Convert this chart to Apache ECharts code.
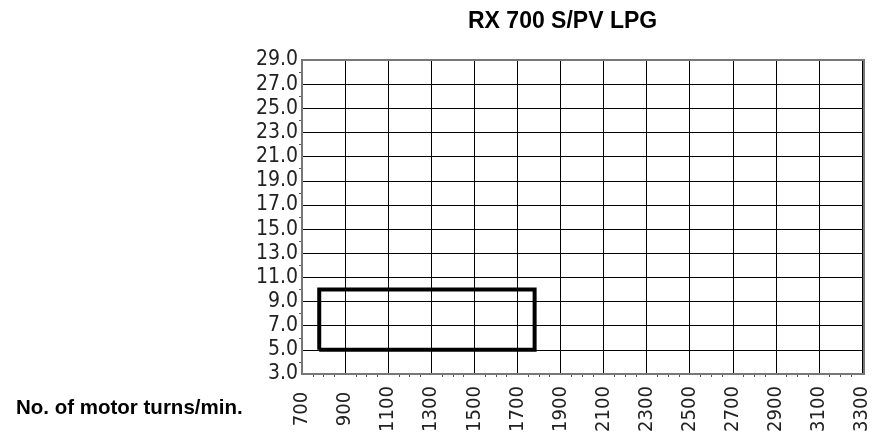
<!DOCTYPE html>
<html>
<head>
<meta charset="utf-8">
<script src="https://cdn.jsdelivr.net/npm/echarts@6/dist/echarts.min.js"></script>
<style>
  html, body { margin: 0; padding: 0; background: #fff; }
  #chart { width: 872px; height: 439px; }
</style>
</head>
<body>
<div id="chart"></div>
<script>
// range box, rpm vs value
var boxRpm = [780, 1780, 1780, 780, 780];
var boxVal = [5, 5, 10, 10, 5];
var xMin = 700, xMax = 3300, xStep = 200;
var yMin = 3, yMax = 29, yStep = 2;

var chart = echarts.init(document.getElementById('chart'));

var pts = boxRpm.map(function (r, i) { return [r, boxVal[i]]; });

var labelFont = 'DejaVu Sans Condensed';

chart.setOption({
  animation: false,
  title: [{
    text: 'RX 700 S/PV LPG',
    left: 463,
    top: 5,
    textStyle: { fontFamily: 'Liberation Sans', fontWeight: 'bold', fontSize: 23, color: '#000' }
  }, {
    text: 'No. of motor turns/min.',
    left: 11,
    top: 393,
    textStyle: { fontFamily: 'Liberation Sans', fontWeight: 'bold', fontSize: 20.5, color: '#000' }
  }],
  grid: { left: 302, top: 60, width: 562, height: 314, containLabel: false },
  xAxis: {
    type: 'value',
    min: xMin, max: xMax, interval: xStep,
    axisLine: { show: true, onZero: false, lineStyle: { color: '#777', width: 2 } },
    axisTick: { show: false },
    minorTick: { show: true, splitNumber: 4, length: 3, lineStyle: { color: '#555' } },
    splitLine: { show: true, lineStyle: { color: '#000', width: 1 } },
    axisLabel: {
      rotate: 90, align: 'center', verticalAlign: 'middle', margin: 35,
      fontFamily: labelFont, fontSize: 20, color: '#222',
      formatter: function (v) { return String(v); }
    }
  },
  yAxis: {
    type: 'value',
    min: yMin, max: yMax, interval: yStep,
    axisLine: { show: true, onZero: false, lineStyle: { color: '#777', width: 2 } },
    axisTick: { show: false },
    minorTick: { show: true, splitNumber: 2, length: 3, lineStyle: { color: '#555' } },
    splitLine: { show: true, lineStyle: { color: '#000', width: 1 } },
    axisLabel: {
      margin: 4, fontFamily: labelFont, fontSize: 21, color: '#222',
      formatter: function (v) { return v.toFixed(1); }
    }
  },
  graphic: [{
    type: 'rect',
    shape: { x: 302, y: 60, width: 562, height: 314 },
    style: { fill: 'none', stroke: '#777', lineWidth: 2 },
    silent: true, z: 10
  }],
  series: [{
    type: 'line',
    data: pts,
    symbol: 'none',
    lineStyle: { color: '#000', width: 4, join: 'miter' },
    z: 20
  }]
});
</script>
</body>
</html>
